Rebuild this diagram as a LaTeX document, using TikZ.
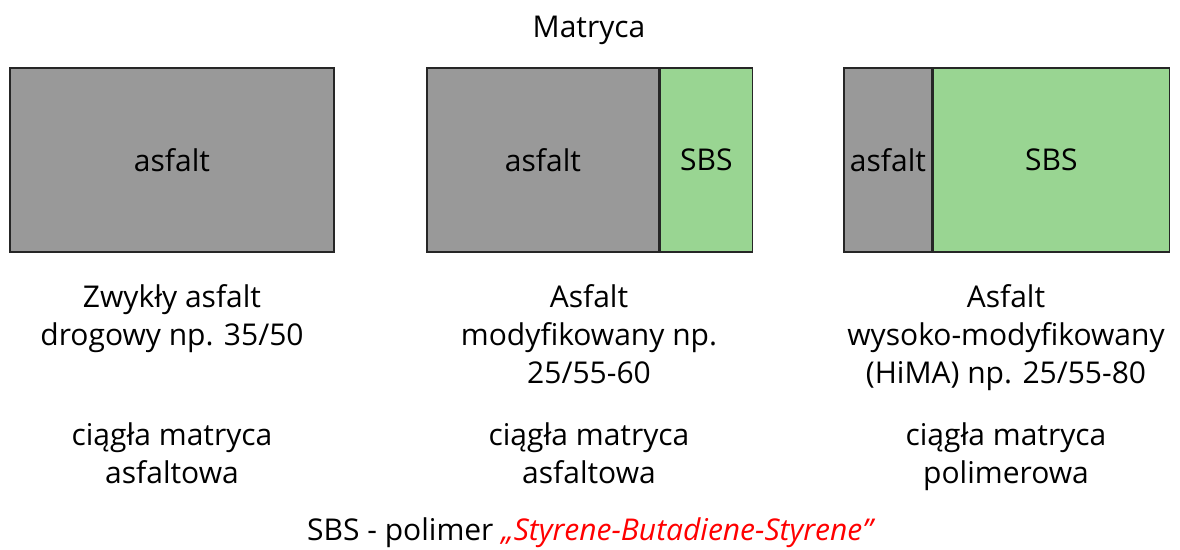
\documentclass[tikz,border=0pt]{standalone}
\usepackage{fontspec}
\setmainfont{Open Sans}
\usepackage{xcolor}
\usetikzlibrary{positioning}

\definecolor{asfaltgray}{HTML}{999999}
\definecolor{sbsgreen}{HTML}{99D592}
\definecolor{sbsred}{HTML}{FF0000}

\begin{document}
\begin{tikzpicture}[
    x=1pt, y=-1pt,
    font=\fontsize{30}{38}\selectfont,
    node distance=0pt,
    asfalt/.style={rectangle, draw=black!85, line width=1.4pt, fill=asfaltgray, minimum height=184pt, inner sep=0pt},
    sbs/.style={rectangle, draw=black!85, line width=1.4pt, fill=sbsgreen, minimum height=184pt, inner sep=0pt},
    caption/.style={align=center, inner sep=0pt, anchor=north}
]
\useasboundingbox (0,0) rectangle (1180,549);

% Title
\node [anchor=base] (title) at (589,37) {Matryca};

% Boxes
\node [asfalt, minimum width=324pt] (box1) at (172,160) {asfalt};
\node [asfalt, minimum width=232pt] (box2a) at (543,160) {asfalt};
\node [sbs, minimum width=92pt, right=of box2a] (box2b) {SBS};
\node [asfalt, minimum width=88pt] (box3a) at (888,160) {asfalt};
\node [sbs, minimum width=236pt, right=of box3a] (box3b) {SBS};

% Captions
\node [caption] (cap1) at (172,284) {Zwykły asfalt\\drogowy np. 35/50};
\node [caption] (cap2) at (589,284) {Asfalt\\modyfikowany np.\\25/55-60};
\node [caption] (cap3) at (1006,284) {Asfalt\\wysoko-modyfikowany\\(HiMA) np. 25/55-80};

\node [caption] (mat1) at (172,422) {ciągła matryca\\asfaltowa};
\node [caption] (mat2) at (589,422) {ciągła matryca\\asfaltowa};
\node [caption] (mat3) at (1006,422) {ciągła matryca\\polimerowa};

% Footnote
\node [anchor=base] (note) at (590,540) {SBS - polimer \textcolor{sbsred}{\itshape „Styrene-Butadiene-Styrene”}};

\end{tikzpicture}
\end{document}
